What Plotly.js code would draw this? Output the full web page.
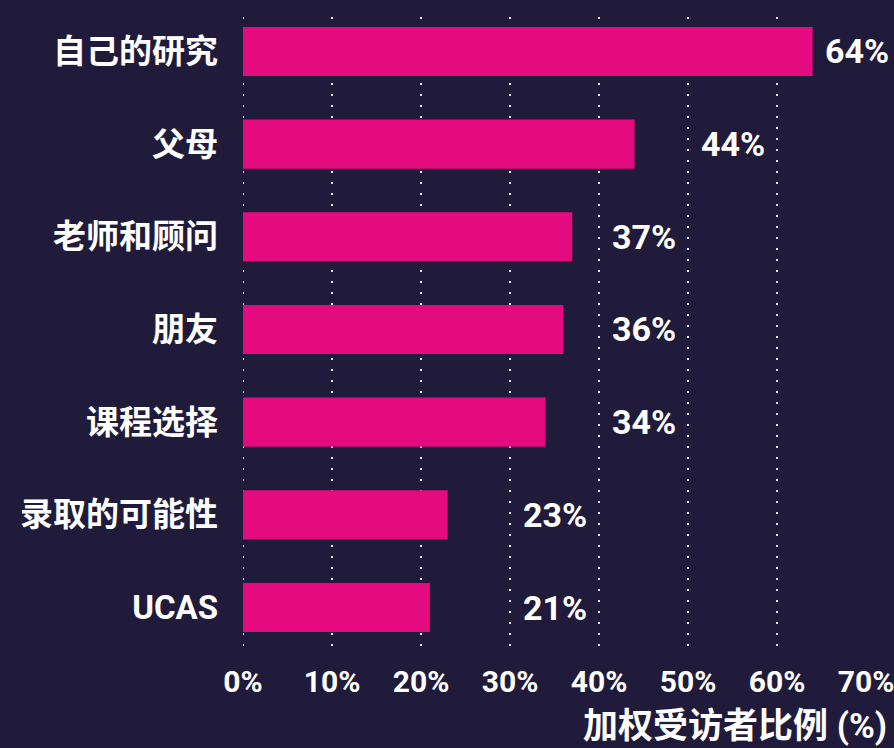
<!DOCTYPE html>
<html>
<head>
<meta charset="utf-8">
<script src="https://cdn.plot.ly/plotly-3.0.1.min.js"></script>
<style>
  html, body { margin: 0; padding: 0; background: #211b3b; }
  #gd { width: 894px; height: 748px; }
</style>
</head>
<body>
<div id="gd"></div>
<script>
// share of weighted respondents citing each source (%)
var categories = ["自己的研究", "父母", "老师和顾问", "朋友", "课程选择", "录取的可能性", "UCAS"];
var shares = [64, 44, 37, 36, 34, 23, 21];
var tickValues = [0, 10, 20, 30, 40, 50, 60, 70];
var tickLabels = ["0%", "10%", "20%", "30%", "40%", "50%", "60%", "70%"];
var axisTitle = "加权受访者比例 (%)";

var bg = "#211b3b";
var fontFamily = "Roboto, 'Noto Sans CJK SC', sans-serif";
var dots = "2px,9px";

// value labels sit in the middle of the grid cell after the bar,
// unless that would run off the axis, then right after the bar
var labels = shares.map(function (v, i) {
  var mid = Math.floor(v / 10) * 10 + 15;
  var fits = mid <= 70;
  return {
    x: fits ? mid : v,
    y: categories[i],
    xref: "x",
    yref: "y",
    text: v + "%",
    showarrow: false,
    xanchor: fits ? "center" : "left",
    xshift: fits ? 0 : 8,
    bgcolor: bg,
    borderpad: 3,
    font: {family: fontFamily, size: 34, color: "#ffffff", weight: "bold"}
  };
});

labels.push({
  x: 1,
  y: 0,
  xref: "paper",
  yref: "paper",
  text: axisTitle,
  showarrow: false,
  xanchor: "right",
  yanchor: "middle",
  xshift: 22,
  yshift: -78,
  borderpad: 0,
  font: {family: fontFamily, size: 35, color: "#ffffff", weight: "bold"}
});

var layout = {
  width: 894,
  height: 748,
  paper_bgcolor: bg,
  plot_bgcolor: bg,
  showlegend: false,
  margin: {l: 243, r: 28, t: 17, b: 100},
  bargap: 0.47,
  xaxis: {
    range: [0, 70],
    tickmode: "array",
    tickvals: tickValues,
    ticktext: tickLabels,
    showgrid: true,
    gridcolor: "rgba(255,255,255,0.9)",
    gridwidth: 2,
    griddash: dots,
    zeroline: false,
    showline: false,
    ticks: "",
    ticklabelstandoff: 13,
    ticklabeloverflow: "allow",
    tickfont: {family: fontFamily, size: 30, color: "#ffffff", weight: "bold"},
    fixedrange: true
  },
  yaxis: {
    type: "category",
    categoryorder: "array",
    categoryarray: categories,
    range: [6.437, -0.372],
    showgrid: false,
    zeroline: false,
    showline: false,
    ticks: "",
    ticklabelstandoff: 24,
    tickfont: {family: fontFamily, size: 33, color: "#ffffff", weight: "bold"},
    fixedrange: true
  },
  // plotly drops the gridline sitting on the left edge, so draw it here
  shapes: [{
    type: "line",
    layer: "below",
    xref: "x",
    yref: "paper",
    x0: tickValues[0],
    x1: tickValues[0],
    y0: 1,
    y1: 0,
    line: {color: "rgba(255,255,255,0.9)", width: 2, dash: dots}
  }],
  annotations: labels
};

Plotly.newPlot("gd", [{
  type: "bar",
  orientation: "h",
  x: shares,
  y: categories,
  marker: {color: "#e40b7e"},
  hoverinfo: "none"
}], layout, {displayModeBar: false, staticPlot: true});
</script>
</body>
</html>
